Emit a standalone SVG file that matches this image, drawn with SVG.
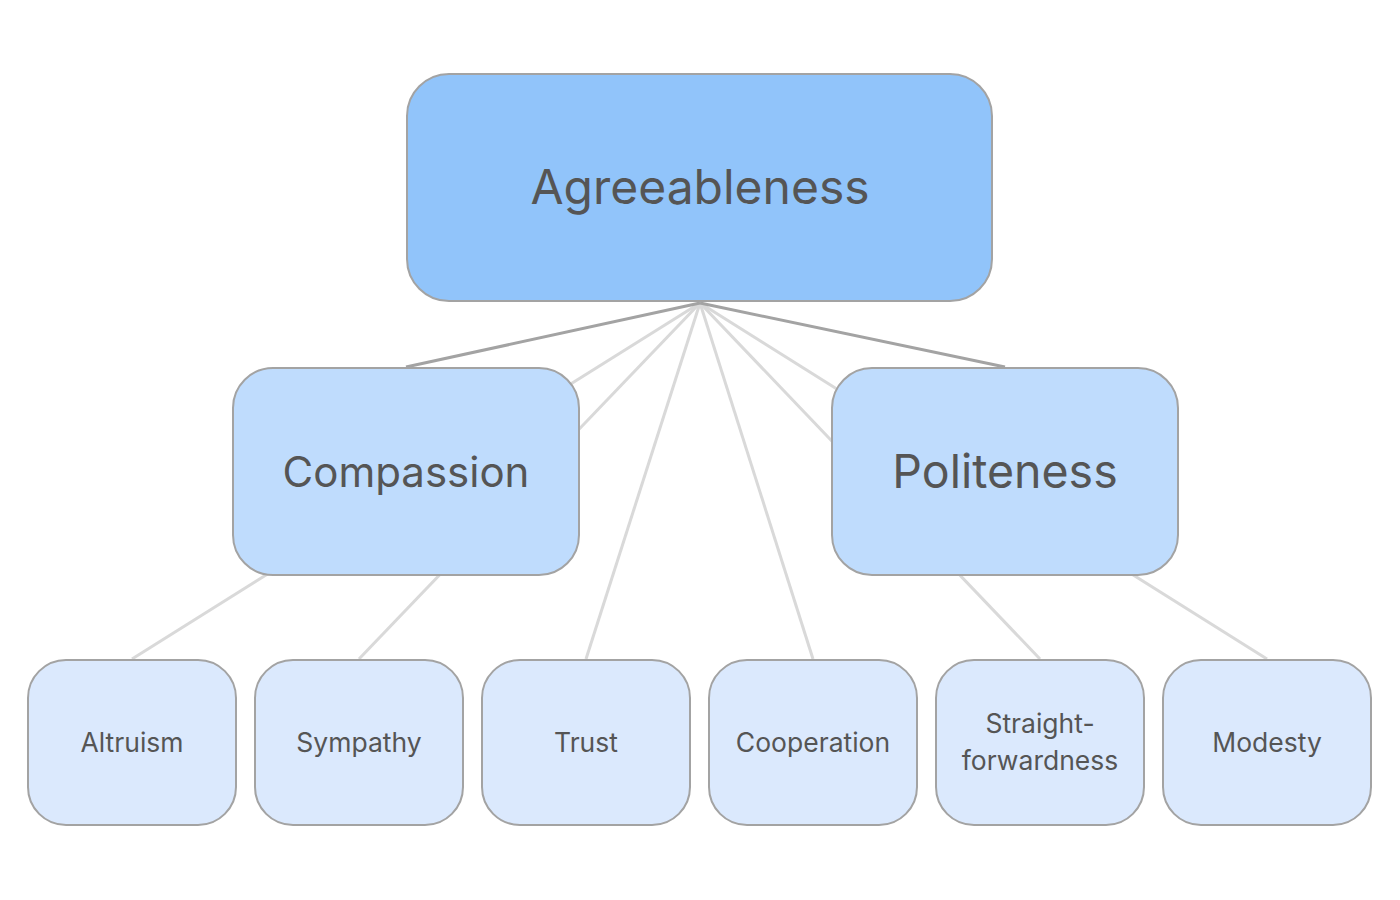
<svg xmlns="http://www.w3.org/2000/svg" width="1400" height="900" viewBox="0 0 1400 900">
<style>
.n{stroke:#a3a3a3;stroke-width:2}
.r{fill:#91c4fa}
.m{fill:#bfdcfd}
.l{fill:#dbe9fd}
text{font-family:Inter,"Noto Sans",sans-serif;fill:#555;text-anchor:middle}
.tr{font-size:48px}
.tm{font-size:42px}
.tp{font-size:46.5px}
.tl{font-size:26.5px}
.ed{stroke:#a3a3a3;stroke-width:3}
.el{stroke:#d9d9d9;stroke-width:3}
</style>
<rect width="1400" height="900" fill="#fff"/>
<g id="connectors" fill="none">
<line class="el" x1="700" y1="303" x2="132" y2="659"/>
<line class="el" x1="700" y1="303" x2="359" y2="659"/>
<line class="el" x1="700" y1="303" x2="586" y2="659"/>
<line class="el" x1="700" y1="303" x2="813" y2="659"/>
<line class="el" x1="700" y1="303" x2="1040" y2="659"/>
<line class="el" x1="700" y1="303" x2="1267" y2="659"/>
<line class="ed" x1="700" y1="303" x2="406" y2="367"/>
<line class="ed" x1="700" y1="303" x2="1005" y2="367"/>
</g>
<g id="agreeableness">
<rect class="n r" x="407" y="74" width="585" height="227" rx="42"/>
<text class="tr" x="700" y="204">Agreeableness</text>
</g>
<g id="compassion">
<rect class="n m" x="233" y="368" width="346" height="207" rx="40"/>
<text class="tm" x="406" y="487">Compassion</text>
</g>
<g id="politeness">
<rect class="n m" x="832" y="368" width="346" height="207" rx="40"/>
<text class="tp" x="1005" y="488">Politeness</text>
</g>
<g id="altruism">
<rect class="n l" x="28" y="660" width="208" height="165" rx="38"/>
<text class="tl" x="132" y="752">Altruism</text>
</g>
<g id="sympathy">
<rect class="n l" x="255" y="660" width="208" height="165" rx="38"/>
<text class="tl" x="359" y="752">Sympathy</text>
</g>
<g id="trust">
<rect class="n l" x="482" y="660" width="208" height="165" rx="38"/>
<text class="tl" x="586" y="752">Trust</text>
</g>
<g id="cooperation">
<rect class="n l" x="709" y="660" width="208" height="165" rx="38"/>
<text class="tl" x="813" y="752">Cooperation</text>
</g>
<g id="straightforwardness">
<rect class="n l" x="936" y="660" width="208" height="165" rx="38"/>
<text class="tl" x="1040" y="733">Straight-</text>
<text class="tl" x="1040" y="770">forwardness</text>
</g>
<g id="modesty">
<rect class="n l" x="1163" y="660" width="208" height="165" rx="38"/>
<text class="tl" x="1267" y="752">Modesty</text>
</g>
</svg>
